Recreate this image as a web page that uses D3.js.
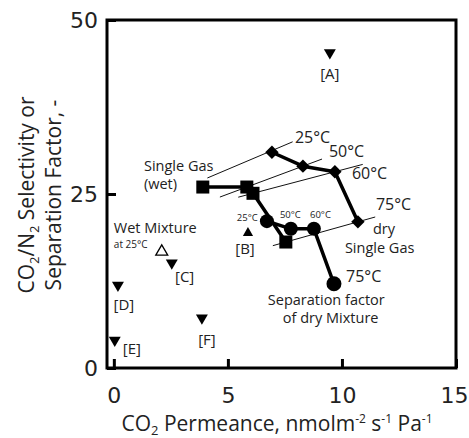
<!DOCTYPE html>
<html>
<head>
<meta charset="utf-8">
<script src="https://cdn.jsdelivr.net/npm/d3@7"></script>
<style>
  body { margin: 0; background: #fff; }
  svg text { font-family: "Open Sans", sans-serif; fill: #222; }
</style>
</head>
<body>
<div id="chart"></div>
<script>
// temperatures of the series
const temps = ['25°C', '50°C', '60°C', '75°C'];

// wet single gas (squares)
const wetX = [3.9, 5.83, 6.1, 7.54];
const wetY = [26.0, 26.0, 25.1, 18.1];

// dry single gas (diamonds)
const dryX = [6.93, 8.29, 9.69, 10.7];
const dryY = [31.0, 29.0, 28.2, 21.0];

// separation factor of dry mixture (circles)
const mixX = [6.71, 7.76, 8.77, 9.65];
const mixY = [21.1, 20.0, 20.0, 12.1];

// literature values (down triangles)
const litNames = ['[A]', '[C]', '[D]', '[E]', '[F]'];
const litX = [9.47, 2.54, 0.18, 0.04, 3.86];
const litY = [45.3, 15.1, 11.9, 4.0, 7.2];

// [B] and wet mixture at 25 C
const bPoint = [5.88, 19.4];
const wetMixPoint = [2.1, 16.7];

const xTicks = [0, 5, 10, 15];
const yTicks = [0, 25, 50];

const width = 469;
const height = 438;

const x = d3.scaleLinear().domain([-0.3, 15]).range([107, 456]);
const y = d3.scaleLinear().domain([0, 50]).range([368, 20]);

const svg = d3.select('#chart').append('svg')
  .attr('width', width)
  .attr('height', height);

// thin isotherm lines from wet square through dry diamond
const isoT = [[0.07, 1.3], [-0.48, 1.34], [-0.18, 1.34], [-0.18, 1.24]];
const isoLines = temps.map((t, i) => {
  const x0 = wetX[i], y0 = wetY[i];
  const dx = dryX[i] - x0, dy = dryY[i] - y0;
  return isoT[i].map(k => [x0 + k * dx, y0 + k * dy]);
});
// first line starts at the top right corner of the square
isoLines[0][0] = [wetX[0] + 0.2, wetY[0] + 1.3];

const line = d3.line().x(d => x(d[0])).y(d => y(d[1]));

svg.append('g').selectAll('path').data(isoLines).enter().append('path')
  .attr('d', line)
  .attr('fill', 'none')
  .attr('stroke', '#111')
  .attr('stroke-width', 1);

// frame
svg.append('rect')
  .attr('x', x(-0.3)).attr('y', y(50))
  .attr('width', x(15) - x(-0.3)).attr('height', y(0) - y(50))
  .attr('fill', 'none').attr('stroke', '#000').attr('stroke-width', 3);

// axes
const xAxis = svg.append('g')
  .attr('transform', `translate(0,${y(0)})`)
  .call(d3.axisBottom(x).tickValues(xTicks).tickSize(-9).tickPadding(19).tickFormat(d3.format('d')));
const yAxis = svg.append('g')
  .attr('transform', `translate(${x(-0.3)},0)`)
  .call(d3.axisLeft(y).tickValues(yTicks).tickSize(-9).tickPadding(9).tickFormat(d3.format('d')));

[xAxis, yAxis].forEach(a => {
  a.select('.domain').remove();
  a.selectAll('.tick line').attr('stroke', '#000').attr('stroke-width', 3);
  a.selectAll('.tick text')
    .style('font-family', '"DejaVu Sans", sans-serif')
    .attr('font-size', 22).attr('fill', '#111');
});
// keep the last x label inside the page
xAxis.selectAll('.tick text').filter(d => d === 15).attr('dx', -2);

// thick series lines
const pts = (xs, ys) => xs.map((v, i) => [v, ys[i]]);
const seriesLine = g => g.attr('fill', 'none').attr('stroke', '#000').attr('stroke-width', 3.5).attr('stroke-linejoin', 'round');

svg.append('path').datum(pts(wetX, wetY)).attr('d', line).call(seriesLine);
svg.append('path').datum(pts(dryX, dryY)).attr('d', line).call(seriesLine);
svg.append('path').datum(pts(mixX, mixY)).attr('d', line).call(seriesLine);

// markers
svg.append('g').selectAll('rect').data(pts(wetX, wetY)).enter().append('rect')
  .attr('x', d => x(d[0]) - 6.5).attr('y', d => y(d[1]) - 6.5)
  .attr('width', 13).attr('height', 13).attr('fill', '#000');

svg.append('g').selectAll('path').data(pts(dryX, dryY)).enter().append('path')
  .attr('d', d3.symbol(d3.symbolSquare, 90))
  .attr('transform', d => `translate(${x(d[0])},${y(d[1])}) rotate(45)`)
  .attr('fill', '#000');

svg.append('g').selectAll('circle').data(pts(mixX, mixY)).enter().append('circle')
  .attr('cx', d => x(d[0])).attr('cy', d => y(d[1]))
  .attr('r', (d, i) => i === 3 ? 7.5 : 7)
  .attr('fill', '#000');

svg.append('g').selectAll('path').data(pts(litX, litY)).enter().append('path')
  .attr('d', d3.symbol(d3.symbolTriangle, 62))
  .attr('transform', d => `translate(${x(d[0])},${y(d[1])}) rotate(180)`)
  .attr('fill', '#000');

svg.append('path')
  .attr('d', d3.symbol(d3.symbolTriangle, 45))
  .attr('transform', `translate(${x(bPoint[0])},${y(bPoint[1])})`)
  .attr('fill', '#000');

svg.append('path')
  .attr('d', d3.symbol(d3.symbolTriangle, 62))
  .attr('transform', `translate(${x(wetMixPoint[0])},${y(wetMixPoint[1])})`)
  .attr('fill', '#fff').attr('stroke', '#000').attr('stroke-width', 1.3);

// annotations: text, x, y (data units), size, anchor
const notes = [
  ['25°C', 7.94, 32.3, 16, 'start'],
  ['50°C', 9.43, 30.3, 16, 'start'],
  ['60°C', 10.44, 27.2, 16, 'start'],
  ['75°C', 11.49, 22.7, 16, 'start'],
  ['Single Gas', 1.32, 28.3, 14.5, 'start'],
  ['(wet)', 1.32, 25.7, 14.5, 'start'],
  ['Wet Mixture', 0, 19.4, 14.5, 'start'],
  ['at 25°C', 0, 17.3, 10, 'start'],
  ['dry', 11.36, 19.25, 14.5, 'start'],
  ['Single Gas', 10.13, 16.5, 14.5, 'start'],
  ['75°C', 10.18, 12.36, 16, 'start'],
  ['Separation factor', 6.75, 9.05, 14.5, 'start'],
  ['of dry Mixture', 7.41, 6.47, 14.5, 'start'],
  ['25°C', 5.39, 21.1, 9.5, 'start'],
  ['50°C', 7.28, 21.55, 9.5, 'start'],
  ['60°C', 8.6, 21.55, 9.5, 'start'],
  ['[A]', 9.47, 41.5, 15, 'middle'],
  ['[B]', 5.75, 16.4, 15, 'middle'],
  ['[C]', 2.68, 12.4, 15, 'start'],
  ['[D]', 0.44, 8.3, 15, 'middle'],
  ['[E]', 0.39, 2.0, 15, 'start'],
  ['[F]', 4.08, 3.3, 15, 'middle'],
];

svg.append('g').selectAll('text').data(notes).enter().append('text')
  .attr('x', d => x(d[1])).attr('y', d => y(d[2]))
  .attr('font-size', d => d[3])
  .attr('text-anchor', d => d[4])
  .text(d => d[0]);

// axis titles
const xt = svg.append('text')
  .attr('x', 277).attr('y', 431)
  .attr('text-anchor', 'middle')
  .attr('font-size', 21);
xt.append('tspan').text('CO');
xt.append('tspan').attr('font-size', 13).attr('dy', 4).text('2');
xt.append('tspan').attr('dy', -4).text(' Permeance, nmolm');
xt.append('tspan').attr('font-size', 12).attr('dy', -8).text('-2');
xt.append('tspan').attr('dy', 8).text(' s');
xt.append('tspan').attr('font-size', 12).attr('dy', -8).text('-1');
xt.append('tspan').attr('dy', 8).text(' Pa');
xt.append('tspan').attr('font-size', 12).attr('dy', -8).text('-1');

const yt = svg.append('g').attr('transform', 'translate(34,195) rotate(-90)');
const yt1 = yt.append('text').attr('text-anchor', 'middle').attr('font-size', 21);
yt1.append('tspan').text('CO');
yt1.append('tspan').attr('font-size', 13).attr('dy', 5).text('2');
yt1.append('tspan').attr('dy', -5).text('/N');
yt1.append('tspan').attr('font-size', 13).attr('dy', 5).text('2');
yt1.append('tspan').attr('dy', -5).text(' Selectivity or');
yt.append('text').attr('y', 27).attr('text-anchor', 'middle').attr('font-size', 21)
  .text('Separation Factor, -');
</script>
</body>
</html>
